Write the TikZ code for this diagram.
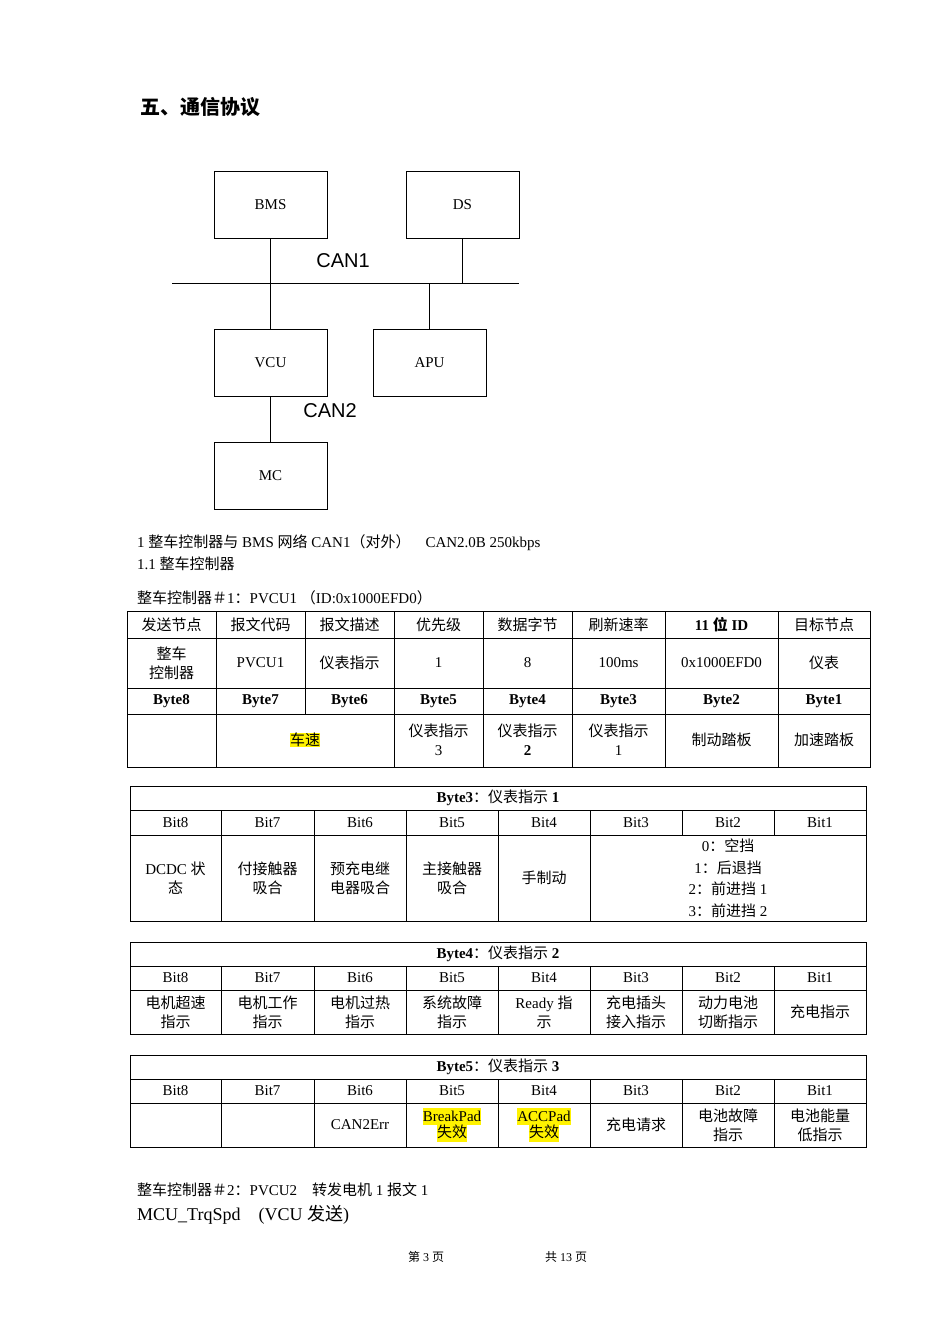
\documentclass[tikz,border=0pt]{standalone}
\usepackage{fontspec}
\setmainfont{Liberation Serif}
\newfontfamily\cjk{Noto Sans CJK SC}
\newfontfamily\sansf{Liberation Sans}
\newcommand\zh[1]{{\cjk #1}}
\begin{document}
\begin{tikzpicture}[x=1pt,y=-1pt,
  box/.style={draw,line width=0.8pt},
  t/.style={font=\fontsize{15}{19}\selectfont,align=center,inner sep=0pt},
  hl/.style={fill=yellow},
  ln/.style={line width=0.8pt}]
\useasboundingbox (0,0) rectangle (950,1344);
\fill[white] (0,0) rectangle (950,1344);
% title
\node[anchor=west,font=\fontsize{20}{22}\selectfont\bfseries] (title) at (137,107) {\zh{五、通信协议}};
% network
\node[box,minimum width=113,minimum height=67,t] (bms) at (270.5,204.5) {BMS};
\node[box,minimum width=113,minimum height=67,t] (ds) at (462.5,204.5) {DS};
\node[box,minimum width=113,minimum height=67,t] (vcu) at (270.5,362.5) {VCU};
\node[box,minimum width=113,minimum height=67,t] (apu) at (429.5,362.5) {APU};
\node[box,minimum width=113,minimum height=67,t] (mc) at (270.5,476) {MC};
\coordinate (busL) at (172,283); \coordinate (busR) at (519,283);
\draw[ln] (busL) -- (busR);
\draw[ln] (bms.south) -- (vcu.north);
\draw[ln] (ds.south) -- (ds.south |- busL);
\draw[ln] (apu.north) -- (apu.north |- busL);
\draw[ln] (vcu.south) -- (mc.north);
\node[font=\sansf\fontsize{20}{22}\selectfont] (can1) at (343,261) {CAN1};
\node[font=\sansf\fontsize{20}{22}\selectfont] (can2) at (330,411) {CAN2};
% text lines
\node[t,anchor=west] (l1) at (137,543) {1 \zh{整车控制器与} BMS \zh{网络} CAN1\zh{（对外）}\quad CAN2.0B 250kbps};
\node[t,anchor=west] (l2) at (137,564) {1.1 \zh{整车控制器}};
\node[t,anchor=west] (l3) at (137,598) {\zh{整车控制器＃}1\zh{：}PVCU1 \zh{（}ID:0x1000EFD0\zh{）}};
% table 1
\def\Xa{127,216,305,394,483,572,665,778,870}
\draw[line width=1pt] (127,611) rectangle (870,767);
\foreach \y in {638,688,714} \draw[ln] (127,\y) -- (870,\y);
\foreach \x in {216,305,394,483,572,665,778} \draw[ln] (\x,611) -- (\x,714);
\foreach \x in {216,394,483,572,665,778} \draw[ln] (\x,714) -- (\x,767);
\foreach \x/\s [count=\i] in {171.5/\zh{发送节点},260.5/\zh{报文代码},349.5/\zh{报文描述},438.5/\zh{优先级},527.5/\zh{数据字节},618.5/\zh{刷新速率},721.5/{\bfseries 11 \zh{位} ID},824/\zh{目标节点}}
  \node[t] (h\i) at (\x,625) {\s};
\foreach \x/\s [count=\i] in {171.5/{\zh{整车}\\\zh{控制器}},260.5/PVCU1,349.5/\zh{仪表指示},438.5/1,527.5/8,618.5/100ms,721.5/0x1000EFD0,824/\zh{仪表}}
  \node[t] (v\i) at (\x,663) {\s};
\foreach \x/\s [count=\i] in {171.5/8,260.5/7,349.5/6,438.5/5,527.5/4,618.5/3,721.5/2,824/1}
  \node[t,font=\fontsize{15}{19}\selectfont\bfseries] (b\i) at (\x,701) {Byte\s};
\node[t,hl] (cs) at (305,740) {\zh{车速}};
\node[t] (d5) at (438.5,740) {\zh{仪表指示}\\3};
\node[t] (d4) at (527.5,740) {\zh{仪表指示}\\\textbf{2}};
\node[t] (d3) at (618.5,740) {\zh{仪表指示}\\1};
\node[t] (d2) at (721.5,740) {\zh{制动踏板}};
\node[t] (d1) at (824,740) {\zh{加速踏板}};
% bit tables
\newcommand\bittable[5]{% y0 y1 y2 y3 title
  \draw[ln] (130,#1) rectangle (866,#4);
  \draw[ln] (130,#2) -- (866,#2);
  \draw[ln] (130,#3) -- (866,#3);
  \foreach \x in {221,314,406,498,590,682,774} \draw[ln] (\x,#2) -- (\x,#3);
  \node[t] at (498,{(#1+#2)/2}) {#5};
  \foreach \x/\s in {175.5/8,267.5/7,360/6,452/5,544/4,636/3,728/2,820/1}
    \node[t] at (\x,{(#2+#3)/2}) {Bit\s};
}
\bittable{786}{810}{835}{921}{\textbf{Byte3}\zh{：仪表指示} \textbf{1}}
\foreach \x in {221,314,406,498,590} \draw[ln] (\x,835) -- (\x,921);
\node[t] (c8) at (175.5,878) {DCDC \zh{状}\\\zh{态}};
\node[t] (c7) at (267.5,878) {\zh{付接触器}\\\zh{吸合}};
\node[t] (c6) at (360,878) {\zh{预充电继}\\\zh{电器吸合}};
\node[t] (c5) at (452,878) {\zh{主接触器}\\\zh{吸合}};
\node[t] (c4) at (544,878) {\zh{手制动}};
\node[t,font=\fontsize{15}{21.5}\selectfont] (c3) at (728,878) {0\zh{：空挡}\\1\zh{：后退挡}\\2\zh{：前进挡} 1\\3\zh{：前进挡} 2};

\bittable{942}{966}{990}{1034}{\textbf{Byte4}\zh{：仪表指示} \textbf{2}}
\foreach \x in {221,314,406,498,590,682,774} \draw[ln] (\x,990) -- (\x,1034);
\foreach \x/\s [count=\i] in {175.5/{\zh{电机超速}\\\zh{指示}},267.5/{\zh{电机工作}\\\zh{指示}},360/{\zh{电机过热}\\\zh{指示}},452/{\zh{系统故障}\\\zh{指示}},544/{Ready \zh{指}\\\zh{示}},636/{\zh{充电插头}\\\zh{接入指示}},728/{\zh{动力电池}\\\zh{切断指示}},820/\zh{充电指示}}
  \node[t] (e\i) at (\x,1012) {\s};

\bittable{1055}{1079}{1103}{1147}{\textbf{Byte5}\zh{：仪表指示} \textbf{3}}
\foreach \x in {221,314,406,498,590,682,774} \draw[ln] (\x,1103) -- (\x,1147);
\node[t] (f6) at (360,1125) {CAN2Err};
\node[t] (f5) at (452,1125) {\colorbox{yellow}{\kern-3pt BreakPad\kern-3pt}\\[-3pt]\colorbox{yellow}{\kern-3pt\zh{失效}\kern-3pt}};
\node[t] (f4) at (544,1125) {\colorbox{yellow}{\kern-3pt ACCPad\kern-3pt}\\[-3pt]\colorbox{yellow}{\kern-3pt\zh{失效}\kern-3pt}};
\node[t] (f3) at (636,1125) {\zh{充电请求}};
\node[t] (f2) at (728,1125) {\zh{电池故障}\\\zh{指示}};
\node[t] (f1) at (820,1125) {\zh{电池能量}\\\zh{低指示}};
% bottom text
\node[t,anchor=west] (p2) at (137,1190) {\zh{整车控制器＃}2\zh{：}PVCU2\quad\zh{转发电机} 1 \zh{报文} 1};
\node[t,anchor=west,font=\fontsize{18}{20}\selectfont] (mcu) at (137,1215) {MCU\_TrqSpd\quad(VCU\ \zh{发送})};
\node[font=\fontsize{12}{14}\selectfont] (pg1) at (426,1257) {\zh{第} 3 \zh{页}};
\node[font=\fontsize{12}{14}\selectfont] (pg2) at (566,1257) {\zh{共} 13 \zh{页}};
\end{tikzpicture}
\end{document}
